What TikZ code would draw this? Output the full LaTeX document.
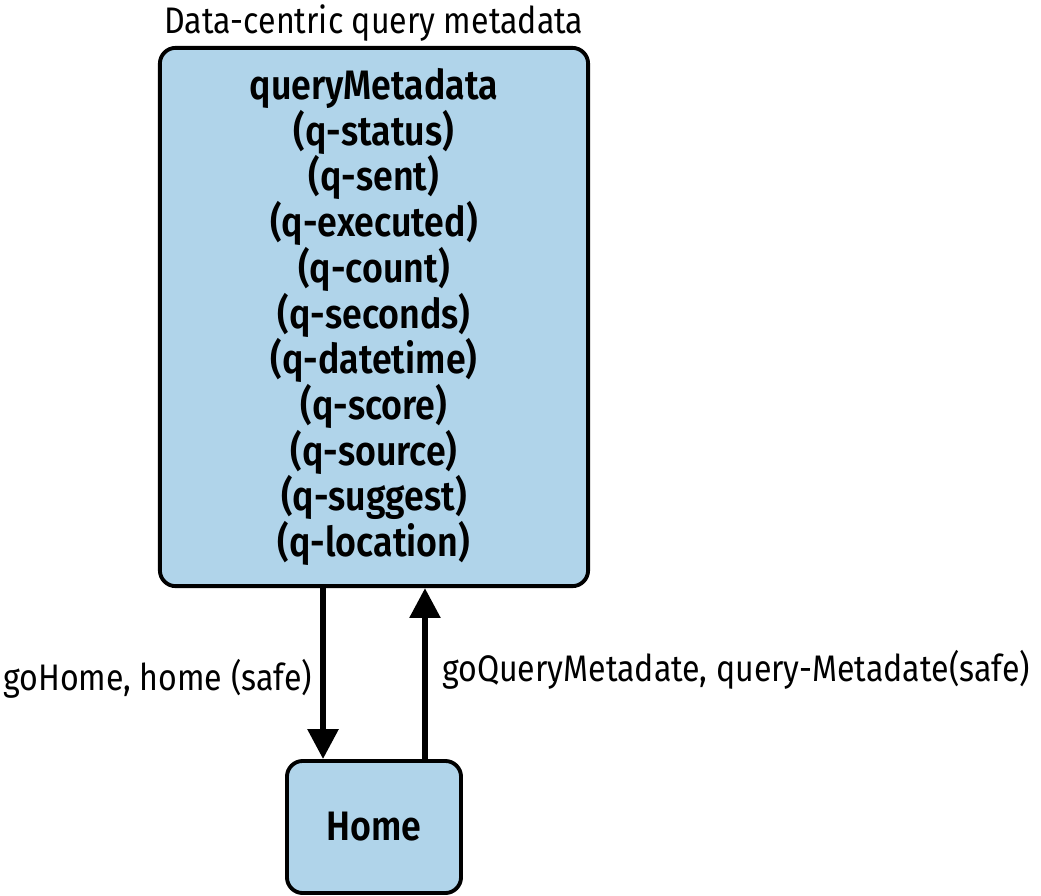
\documentclass[tikz,border=0pt]{standalone}
\usepackage{fontspec}
\setmainfont{Fira Sans}[FakeStretch=0.87,BoldFont={Fira Sans SemiBold}]
\usetikzlibrary{arrows.meta,calc,positioning}
\definecolor{boxblue}{RGB}{176,212,234}
\tikzset{>={Triangle[width=8.5pt,length=8.5pt]}}
\tikzset{
  pagebox/.style={draw,line width=1.1pt,rounded corners=4.5pt,fill=boxblue,
    align=center,font=\bfseries\fontsize{11.7}{13}\selectfont},
  link/.style={line width=1.7pt,->},
  linklabel/.style={inner sep=1pt,font=\fontsize{10.5}{12}\selectfont}
}

\begin{document}
\begin{tikzpicture}[x=0.01cm,y=-0.01cm]
    \useasboundingbox (0,0) rectangle (1041,896);
    \node[pagebox,minimum width=4.28cm,minimum height=5.38cm] (meta) at (374,317)
      {queryMetadata\\(q-status)\\(q-sent)\\(q-executed)\\(q-count)\\(q-seconds)\\
       (q-datetime)\\(q-score)\\(q-source)\\(q-suggest)\\(q-location)};
    \node[linklabel,above=0pt of meta] (title) {Data-centric query metadata};
    \node[pagebox,minimum width=1.74cm,minimum height=1.32cm] (home) at (374,827) {Home};
    \coordinate (dn) at ($(home.north west)+(38,0)$);
    \coordinate (up) at ($(home.north east)+(-38,0)$);
    \draw[link] (dn |- meta.south) -- (dn)
      node[linklabel,pos=0.53,left=1.3pt] (golbl) {goHome, home (safe)};
    \draw[link] (up) -- (up |- meta.south)
      node[linklabel,pos=0.52,right=3pt] (gqlbl) {goQueryMetadate, query-Metadate(safe)};
\end{tikzpicture}
\end{document}
